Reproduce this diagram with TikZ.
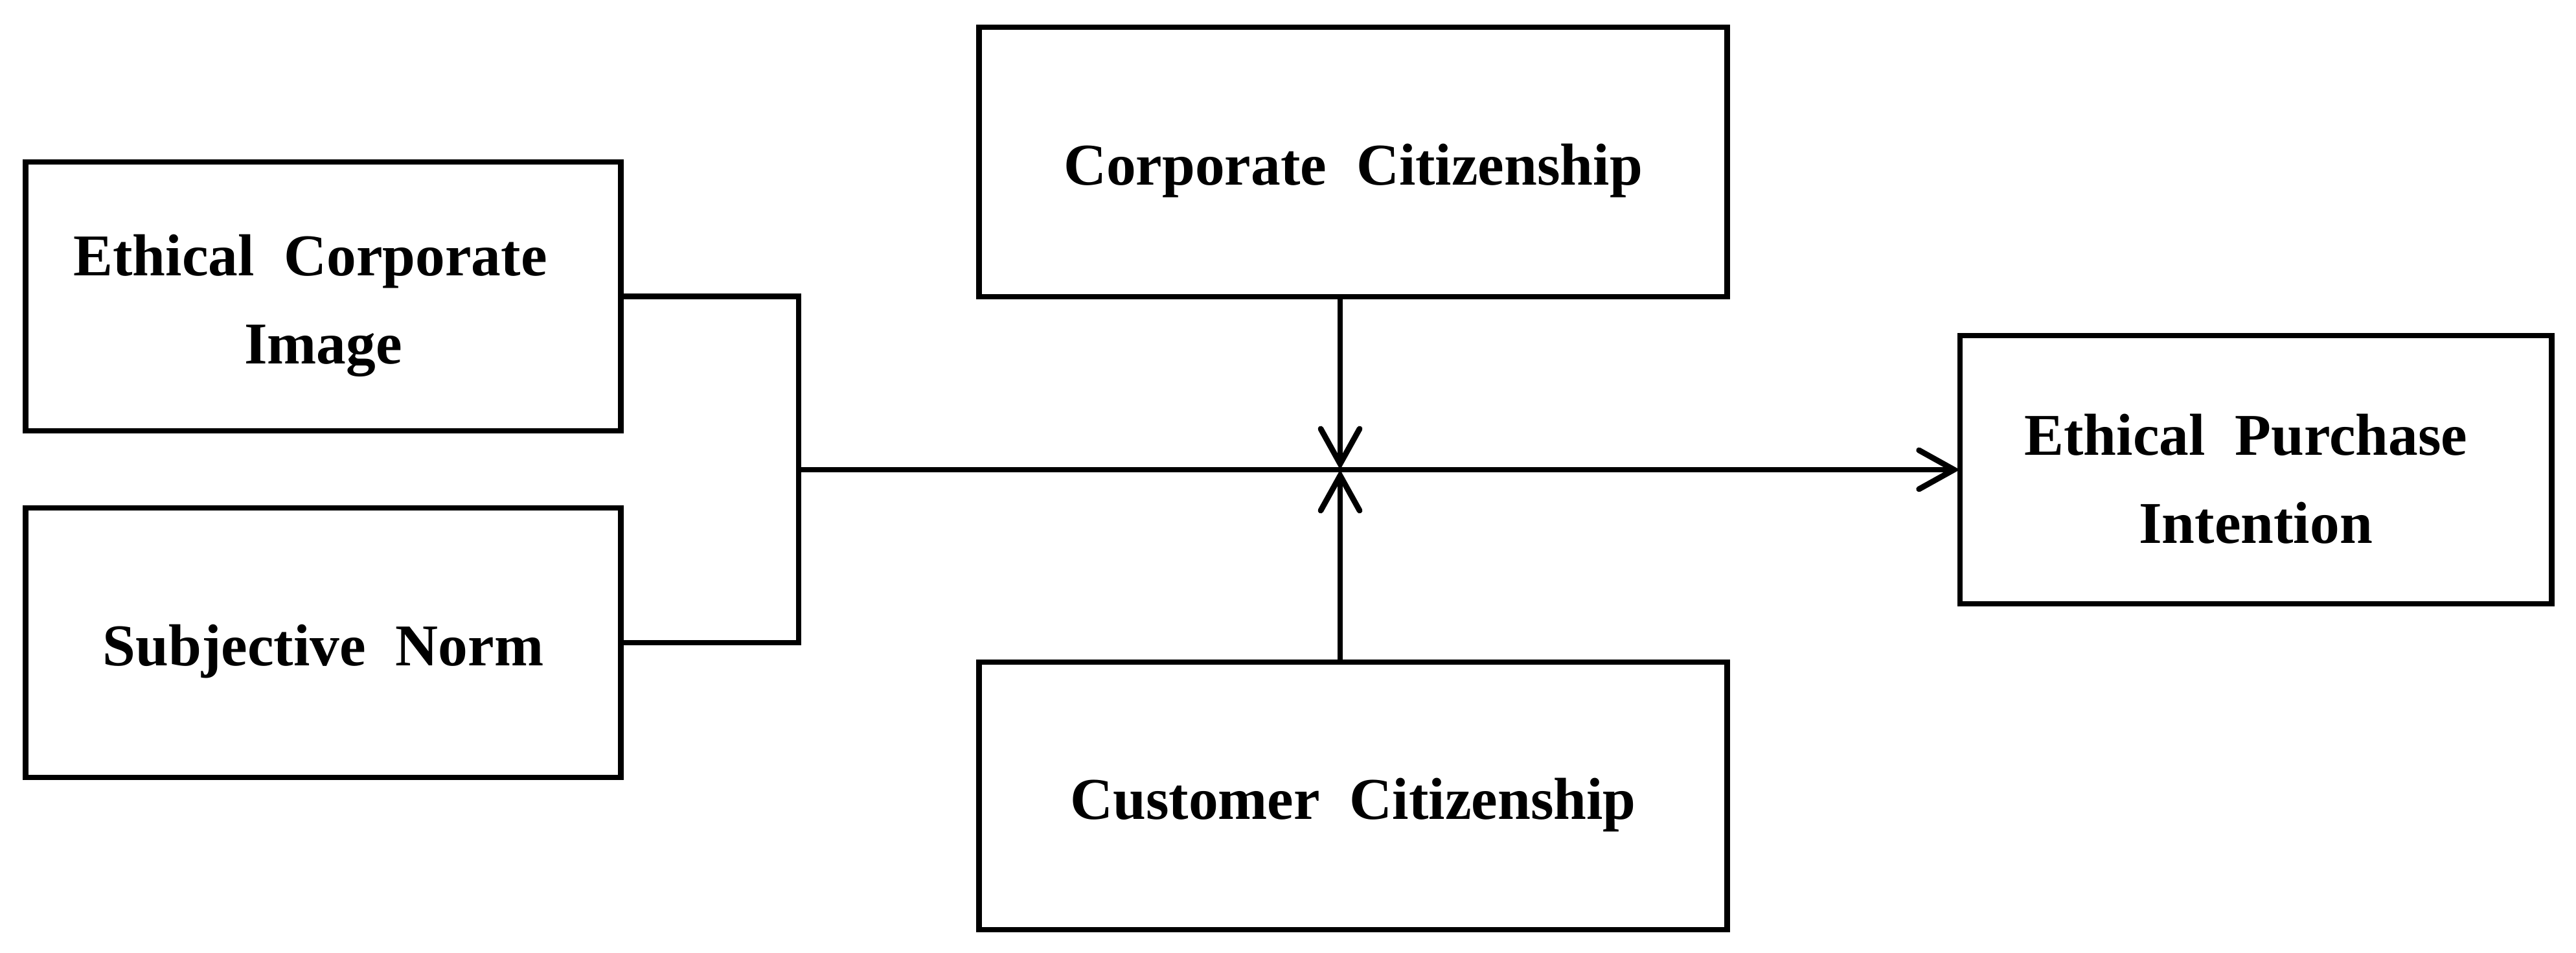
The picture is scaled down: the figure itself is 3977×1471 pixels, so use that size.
\documentclass[tikz,border=0pt]{standalone}
\usepackage{fontspec}
\setmainfont{Liberation Serif}
\usetikzlibrary{arrows.meta}
\begin{document}
\begin{tikzpicture}[
  x=0.01cm, y=-0.01cm,
  box/.style={draw, line width=0.085cm, inner sep=0pt, outer sep=0pt},
  lbl/.style={inner sep=0pt, align=center, font=\fontsize{26}{38.7}\selectfont\bfseries},
  conn/.style={line width=0.088cm},
  arr/.style={conn, -{Straight Barb[length=0.54cm, width=0.6cm, line cap=round]}}
]
\useasboundingbox (0,0) rectangle (3977,1471);
\node[box, minimum width=9.18cm, minimum height=4.15cm] (eci) at (499,457.5) {};
\node[box, minimum width=9.18cm, minimum height=4.16cm] (sn) at (499,992) {};
\node[box, minimum width=11.54cm, minimum height=4.16cm] (cc) at (2089,250) {};
\node[box, minimum width=11.54cm, minimum height=4.13cm] (cust) at (2089,1228.5) {};
\node[box, minimum width=9.13cm, minimum height=4.14cm] (epi) at (3482.5,725) {};
\node[lbl] (ecit) at ([yshift=-0.14cm]eci.center) {Ethical\ \ Corporate\kern0.4cm\\Image};
\node[lbl] (snt) at ([yshift=-0.14cm]sn.center) {Subjective\ \ Norm};
\node[lbl] (cct) at ([yshift=-0.14cm]cc.center) {Corporate\ \ Citizenship};
\node[lbl] (custt) at ([yshift=-0.14cm]cust.center) {Customer\ \ Citizenship};
\node[lbl] (epit) at ([yshift=-0.14cm]epi.center) {Ethical\ \ Purchase\kern0.3cm\\Intention};
\coordinate (brk) at (1233,725);
\coordinate (jn) at (2069,725);
\draw[conn] (eci.east) -| (brk);
\draw[conn] (sn.east) -| (brk);
\draw[arr] (brk) -- (epi.west);
\draw[arr] (cc.south -| jn) -- (jn);
\draw[arr] (cust.north -| jn) -- (jn);
\end{tikzpicture}
\end{document}
